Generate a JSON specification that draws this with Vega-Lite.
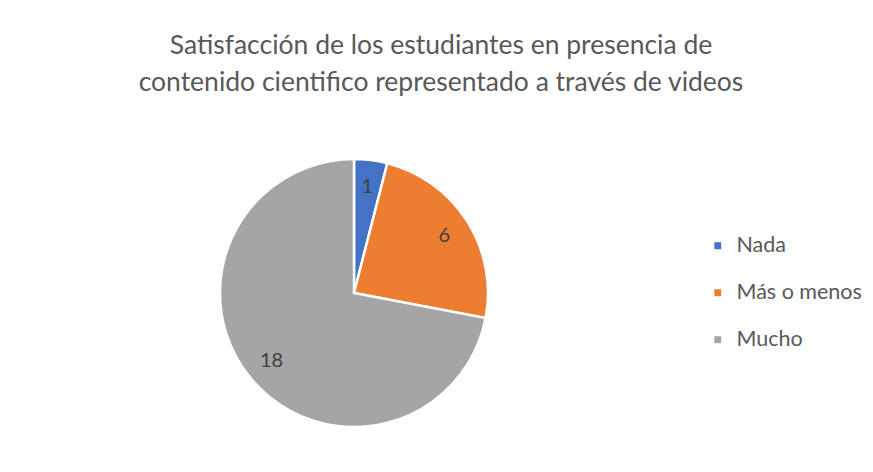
{
  "$schema": "https://vega.github.io/schema/vega-lite/v6.json",
  "width": 268,
  "height": 268,
  "autosize": {"type": "none"},
  "padding": {"left": 220, "top": 159, "right": 385, "bottom": 45},
  "background": "white",
  "title": {
    "text": ["Satisfacción de los estudiantes en presencia de", "contenido cientifico representado a través de videos"],
    "anchor": "middle",
    "frame": "group",
    "dx": 87,
    "offset": 58,
    "font": "Lato",
    "fontSize": 26.5,
    "fontWeight": "normal",
    "color": "#595959",
    "lineHeight": 37
  },
  "data": {
    "values": [
      {"categoria": "Nada", "valor": 1, "orden": 1},
      {"categoria": "Más o menos", "valor": 6, "orden": 2},
      {"categoria": "Mucho", "valor": 18, "orden": 3}
    ]
  },
  "encoding": {
    "theta": {"field": "valor", "type": "quantitative", "stack": true},
    "order": {"field": "orden", "type": "quantitative"}
  },
  "layer": [
    {
      "mark": {"type": "arc", "stroke": "white", "strokeWidth": 2.5},
      "encoding": {
        "color": {
          "field": "categoria",
          "type": "nominal",
          "sort": ["Nada", "Más o menos", "Mucho"],
          "scale": {"domain": ["Nada", "Más o menos", "Mucho"], "range": ["#4472C4", "#ED7D31", "#A5A5A5"]},
          "legend": {
            "title": null,
            "orient": "none",
            "legendX": 487,
            "legendY": 76,
            "symbolType": "square",
            "symbolSize": 70,
            "labelFont": "Lato",
            "labelFontSize": 21.5,
            "labelColor": "#595959",
            "rowPadding": 24,
            "labelOffset": 8
          }
        }
      }
    },
    {
      "mark": {"type": "text", "radius": 107, "font": "Lato", "fontSize": 20, "color": "#404040"},
      "encoding": {"text": {"field": "valor", "type": "quantitative"}}
    }
  ],
  "config": {"view": {"stroke": null}}
}
